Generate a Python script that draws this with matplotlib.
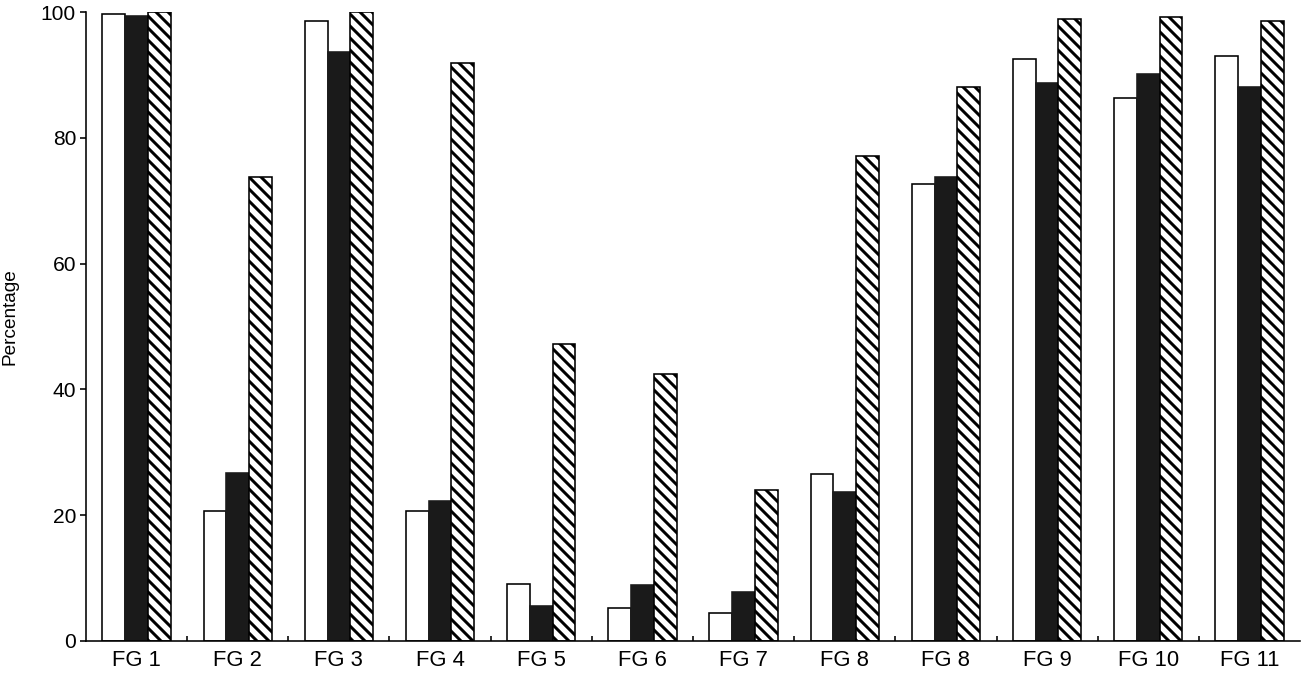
import numpy as np
import matplotlib
matplotlib.use("Agg")
import matplotlib.pyplot as plt

# Values
groups = ["FG 1", "FG 2", "FG 3", "FG 4", "FG 5", "FG 6",
          "FG 7", "FG 8", "FG 8", "FG 9", "FG 10", "FG 11"]
white_vals = [99.7, 20.6, 98.5, 20.7, 9.1, 5.2, 4.5, 26.6, 72.7, 92.5, 86.4, 93.0]
black_vals = [99.3, 26.7, 93.7, 22.3, 5.6, 8.9, 7.8, 23.7, 73.8, 88.7, 90.1, 88.0]
hatch_vals = [100.0, 73.7, 100.0, 91.9, 47.2, 42.4, 24.0, 77.1, 88.1, 98.9, 99.2, 98.5]

plt.rcParams["font.family"] = ["Liberation Sans", "DejaVu Sans"]
plt.rcParams["hatch.linewidth"] = 1.5

DPI = 144
fig = plt.figure(figsize=(1302 / DPI, 675 / DPI), dpi=DPI)
ax = fig.add_axes([86 / 1302, 1 - 641 / 675, 1214 / 1302, 629 / 675])

x = np.arange(len(groups))
w = 0.225
ax.bar(x - w, white_vals, w, color="white", edgecolor="black", linewidth=0.8)
ax.bar(x, black_vals, w, color="#1a1a1a", edgecolor="#1a1a1a", linewidth=0.8)
ax.bar(x + w, hatch_vals, w, color="white", edgecolor="black", linewidth=0.8,
       hatch="\\\\\\\\")

ax.set_xlim(-0.5, len(groups) - 0.5)
ax.set_ylim(0, 100)
ax.set_yticks([0, 20, 40, 60, 80, 100])
ax.set_xticks(x)
ax.set_xticklabels(groups)
ax.set_xticks(np.arange(0.5, len(groups) - 1, 1.0), minor=True)

ax.tick_params(axis="x", which="major", length=0, pad=4.5, labelsize=11)
ax.tick_params(axis="x", which="minor", direction="in", length=2.5, width=0.8)
ax.tick_params(axis="y", direction="out", length=3, width=0.8, pad=2, labelsize=10.5)

for s in ["top", "right"]:
    ax.spines[s].set_visible(False)
for s in ["left", "bottom"]:
    ax.spines[s].set_linewidth(0.8)

ax.set_ylabel("Percentage", fontsize=9.5)
ax.yaxis.set_label_coords(-0.056, 0.515)

fig.savefig("out.png", dpi=DPI)
